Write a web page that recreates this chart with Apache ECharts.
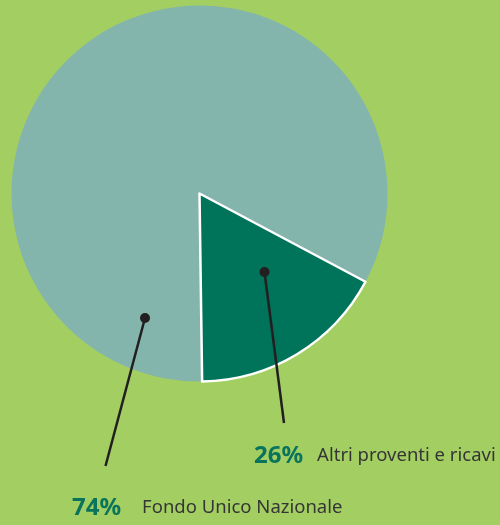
<!DOCTYPE html>
<html>
<head>
<meta charset="utf-8">
<script src="https://cdn.jsdelivr.net/npm/echarts@6/dist/echarts.min.js"></script>
<style>
  html, body { margin: 0; padding: 0; background: #a3cf62; }
  #chart { width: 500px; height: 525px; }
</style>
</head>
<body>
<div id="chart"></div>
<script>
// Data
const categories = ['Fondo Unico Nazionale', 'Altri proventi e ricavi'];
const labelPercents = [74, 26];
// wedge sizes as they are drawn (the dark wedge spans about 61 degrees)
const sliceShares = [83, 17];

const sliceColors = ['#84b5ac', '#00735b'];
const pieCenter = [199.5, 193.5];
const pieRadius = 188;

// annotation anchors: dot inside slice -> line end, and label spot
const callouts = [
  { dot: [145, 318], end: [105.5, 466], label: [72, 508], gap: 21 },
  { dot: [264.5, 272], end: [284, 423], label: [254, 456], gap: 14 }
];

const chart = echarts.init(document.getElementById('chart'));

const pieData = categories.map((name, i) => ({
  name: name,
  value: sliceShares[i],
  itemStyle: i === 1
    ? { color: sliceColors[i], borderColor: '#ffffff', borderWidth: 2.5 }
    : { color: sliceColors[i], borderWidth: 0 },
  label: {
    formatter: '{p|' + labelPercents[i] + '%}{g' + i + '|}{n|' + name + '}'
  }
}));

const graphics = [];
callouts.forEach(c => {
  graphics.push({
    type: 'polyline',
    shape: { points: [c.dot, c.end] },
    style: { stroke: '#231f20', lineWidth: 2.5, fill: null },
    z: 10
  });
  graphics.push({
    type: 'circle',
    shape: { cx: c.dot[0], cy: c.dot[1], r: 5 },
    style: { fill: '#231f20' },
    z: 11
  });
});

const option = {
  backgroundColor: '#a3cf62',
  animation: false,
  graphic: graphics,
  series: [{
    type: 'pie',
    center: pieCenter,
    radius: pieRadius,
    startAngle: 270.8,
    clockwise: true,
    avoidLabelOverlap: false,
    silent: true,
    data: pieData,
    label: {
      show: true,
      position: 'outside',
      fontFamily: 'Noto Sans',
      rich: {
        p: { fontFamily: 'Noto Sans', fontWeight: 'bold', fontSize: 24, color: '#0a735c' },
        g0: { width: callouts[0].gap },
        g1: { width: callouts[1].gap },
        n: { fontFamily: 'Noto Sans', fontSize: 18.5, color: '#353535' }
      }
    },
    labelLine: { show: false },
    labelLayout: function (params) {
      const c = callouts[params.dataIndex];
      return { x: c.label[0], y: c.label[1], align: 'left', verticalAlign: 'middle' };
    }
  }]
};

chart.setOption(option);
</script>
</body>
</html>
